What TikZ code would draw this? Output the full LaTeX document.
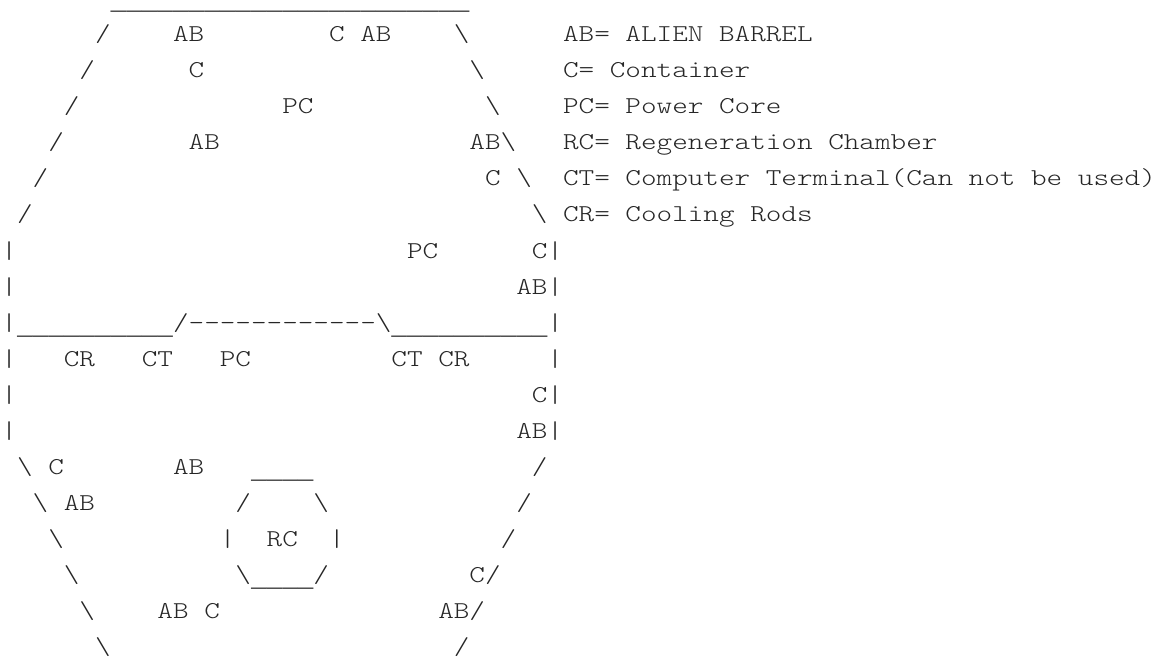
\documentclass[tikz,border=0pt]{standalone}
\usepackage{fontspec}
\newfontfamily\asc{Latin Modern Mono Light}[FakeStretch=1.228]
\newfontfamily\usfont{Liberation Mono}
\newcommand{\bs}{\textbackslash}
\newcommand{\us}[1]{\raisebox{-3pt}{\usfont\fontsize{19.5pt}{20pt}\selectfont #1}}
\newcommand{\tk}[3]{\node[asciitext] at ({(#1)*11.7pt+1.09pt},{-(#2)*27pt-4.5pt}) {#3};}
\tikzset{asciitext/.style={anchor=base west,inner sep=0pt,outer sep=0pt,font=\asc\fontsize{18.15pt}{20pt}\selectfont,text=black!85}}
\begin{document}
\begin{tikzpicture}[x=1pt,y=1pt]
\useasboundingbox (0,0) rectangle (867,-494.25);
\tk{7}{0}{\us{\_\_\_\_\_\_\_\_\_\_\_\_\_\_\_\_\_\_\_\_\_\_\_}}
\tk{6}{1}{/}\tk{11}{1}{AB}\tk{21}{1}{C AB}\tk{29}{1}{\bs}\tk{36}{1}{AB= ALIEN BARREL}
\tk{5}{2}{/}\tk{12}{2}{C}\tk{30}{2}{\bs}\tk{36}{2}{C= Container}
\tk{4}{3}{/}\tk{18}{3}{PC}\tk{31}{3}{\bs}\tk{36}{3}{PC= Power Core}
\tk{3}{4}{/}\tk{12}{4}{AB}\tk{30}{4}{AB\bs}\tk{36}{4}{RC= Regeneration Chamber}
\tk{2}{5}{/}\tk{31}{5}{C}\tk{33}{5}{\bs}\tk{36}{5}{CT= Computer Terminal(Can not be used)}
\tk{1}{6}{/}\tk{34}{6}{\bs}\tk{36}{6}{CR= Cooling Rods}
\tk{0}{7}{|}\tk{26}{7}{PC}\tk{34}{7}{C|}
\tk{0}{8}{|}\tk{33}{8}{AB|}
\tk{0}{9}{|}\tk{1}{9}{\us{\_\_\_\_\_\_\_\_\_\_}}\tk{11}{9}{/-{}-{}-{}-{}-{}-{}-{}-{}-{}-{}-{}-\bs}\tk{25}{9}{\us{\_\_\_\_\_\_\_\_\_\_}}\tk{35}{9}{|}
\tk{0}{10}{|}\tk{4}{10}{CR}\tk{9}{10}{CT}\tk{14}{10}{PC}\tk{25}{10}{CT CR}\tk{35}{10}{|}
\tk{0}{11}{|}\tk{34}{11}{C|}
\tk{0}{12}{|}\tk{33}{12}{AB|}
\tk{1}{13}{\bs}\tk{3}{13}{C}\tk{11}{13}{AB}\tk{16}{13}{\us{\_\_\_\_}}\tk{34}{13}{/}
\tk{2}{14}{\bs}\tk{4}{14}{AB}\tk{15}{14}{/}\tk{20}{14}{\bs}\tk{33}{14}{/}
\tk{3}{15}{\bs}\tk{14}{15}{|}\tk{17}{15}{RC}\tk{21}{15}{|}\tk{32}{15}{/}
\tk{4}{16}{\bs}\tk{15}{16}{\bs}\tk{16}{16}{\us{\_\_\_\_}}\tk{20}{16}{/}\tk{30}{16}{C/}
\tk{5}{17}{\bs}\tk{10}{17}{AB}\tk{13}{17}{C}\tk{28}{17}{AB/}
\tk{6}{18}{\bs}\tk{29}{18}{/}
\end{tikzpicture}
\end{document}
